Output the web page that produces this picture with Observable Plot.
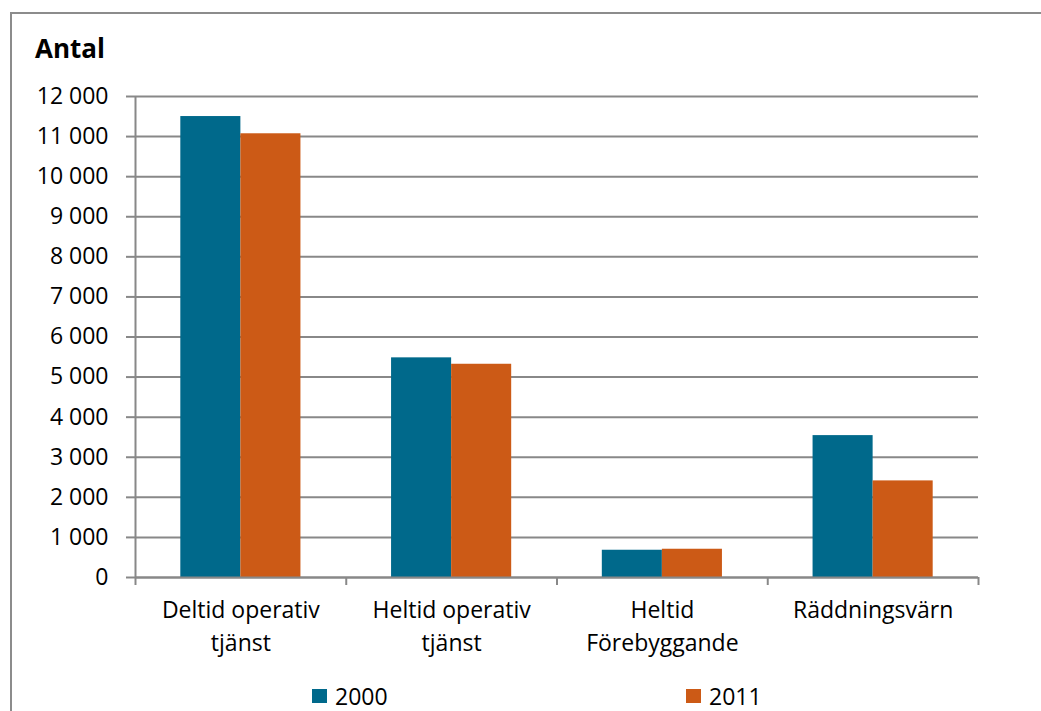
<!DOCTYPE html>
<html>
<head>
<meta charset="utf-8">
<script src="https://cdn.jsdelivr.net/npm/d3@7"></script>
<script src="https://cdn.jsdelivr.net/npm/@observablehq/plot@0.6"></script>
<style>
  body { margin: 0; background: #fff; }
  #chart { position: relative; width: 1041px; height: 711px; overflow: hidden; font-family: "Open Sans", sans-serif; color: #000; }
  #chart svg { position: absolute; left: 0; top: 0; }
  #frame { position: absolute; left: 10px; top: 12px; width: 1100px; height: 800px;
           border-top: 2px solid #8c8c8c; border-left: 2px solid #8c8c8c; box-sizing: border-box; }
  #title { position: absolute; left: 35px; top: 35px; font-size: 26px; font-weight: 700; line-height: 1; }
  .legend-item { position: absolute; top: 685px; height: 22px; display: flex; align-items: center;
                 font-size: 23px; line-height: 1; }
  .swatch { width: 15px; height: 14px; margin-right: 8px; }
</style>
</head>
<body>
<div id="chart"></div>
<script>
// Personal i räddningstjänsten per anställningsform, 2000 och 2011
const categories = ["Deltid operativ\ntjänst", "Heltid operativ\ntjänst", "Heltid\nFörebyggande", "Räddningsvärn"];
const years = ["2000", "2011"];
const values2000 = [11500, 5480, 680, 3540];
const values2011 = [11070, 5320, 705, 2410];
const yTicks = d3.range(0, 12001, 1000);
const colors = ["#00698b", "#cc5a16"];
const gridColor = "#888888";

const rows = categories.flatMap((c, i) => [
  {cat: i, year: years[0], value: values2000[i]},
  {cat: i, year: years[1], value: values2011[i]}
]);

// each category owns one unit of x; the two bars sit side by side around its middle
const barShare = 0.285;
const left = d => d.cat + 0.5 + (d.year === years[0] ? -barShare : 0);
const right = d => left(d) + barShare;

const fmt = d => d3.format(",")(d).replace(/,/g, " ");

const plot = Plot.plot({
  width: 1041,
  height: 711,
  marginLeft: 135,
  marginRight: 63,
  marginTop: 96,
  marginBottom: 134,
  style: {fontFamily: "'Open Sans', sans-serif", fontSize: "23px", color: "#000", background: "transparent"},
  x: {domain: [0, categories.length], axis: null, label: null},
  y: {domain: [0, 12000], axis: null, label: null},
  color: {domain: years, range: colors},
  marks: [
    Plot.gridY(yTicks, {stroke: gridColor, strokeOpacity: 1, strokeWidth: 2}),
    Plot.rect(rows, {x1: left, x2: right, y1: () => 0, y2: "value", fill: "year"}),
    Plot.ruleY([0], {stroke: gridColor, strokeWidth: 2}),
    Plot.ruleX([0], {stroke: gridColor, strokeWidth: 2}),
    Plot.axisY(yTicks, {tickSize: 9, tickPadding: 18, tickFormat: fmt, stroke: gridColor, strokeWidth: 2, fill: "#000", label: null}),
    Plot.axisX(d3.range(categories.length + 1), {tickSize: 8, tickFormat: () => "", stroke: gridColor, strokeWidth: 2, label: null}),
    Plot.axisX(categories.map((c, i) => i + 0.5), {
      tickSize: 0, tickPadding: 18, tickFormat: v => categories[Math.floor(v)],
      lineHeight: 1.4, fill: "#000", label: null
    })
  ]
});

const chart = document.getElementById("chart");
chart.appendChild(plot);

const frame = document.createElement("div");
frame.id = "frame";
chart.appendChild(frame);

const title = document.createElement("div");
title.id = "title";
title.textContent = "Antal";
chart.appendChild(title);

const legendLeft = [312, 686];
years.forEach((y, i) => {
  const item = document.createElement("div");
  item.className = "legend-item";
  item.style.left = legendLeft[i] + "px";
  const sw = document.createElement("span");
  sw.className = "swatch";
  sw.style.background = colors[i];
  item.appendChild(sw);
  item.appendChild(document.createTextNode(y));
  chart.appendChild(item);
});
</script>
</body>
</html>
